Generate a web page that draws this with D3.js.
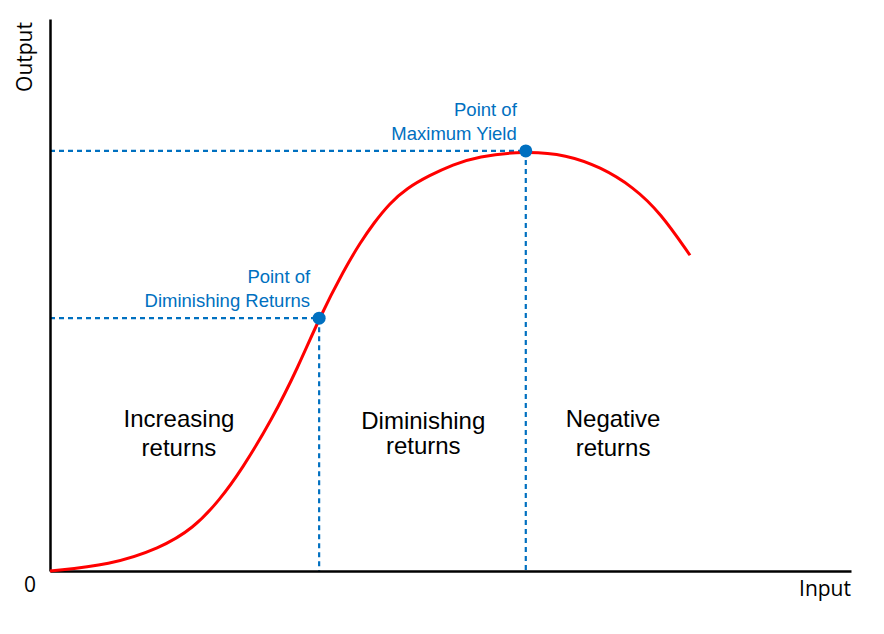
<!DOCTYPE html>
<html>
<head>
<meta charset="utf-8">
<script src="https://cdn.jsdelivr.net/npm/d3@7"></script>
<style>
	html, body { margin: 0; padding: 0; background: #fff; }
	svg { display: block; }
</style>
</head>
<body>
<svg id="chart" width="884" height="634"></svg>
<script>
'use strict';

// production curve (input, output on a 0-100 scale)
let inputs  = [0, 7.5, 13.7, 17.9, 21.2, 23.9, 27.7, 31.0, 33.6, 36.8, 38.7, 40.4, 42.4, 44.5, 47.4, 50.3, 53.3, 59.4, 64.5, 68.7, 72.8, 76.2, 79.9];
let outputs = [0, 1.1, 4.1, 7.7, 12.9, 18.3, 27.4, 37.0, 45.8, 54.8, 59.4, 63.0, 66.6, 69.3, 71.7, 73.6, 75.1, 76.1, 75.4, 73.2, 69.6, 64.9, 57.2];

// marked points
let keyPoints = [
	{name: 'diminishing', x: 33.6, y: 45.8, label: ['Point of', 'Diminishing Returns']},
	{name: 'maximum', x: 59.4, y: 76.1, label: ['Point of', 'Maximum Yield']}
];

// region captions
let regions = [
	{name: 'increasing', x: 16.1, y: 26.1, lines: ['Increasing', 'returns']},
	{name: 'diminishing', x: 46.6, y: 25.7, lines: ['Diminishing', 'returns']},
	{name: 'negative', x: 70.3, y: 26.1, lines: ['Negative', 'returns']}
];

let opt = {
	left: 50,
	right: 851,
	top: 19,
	bottom: 571,
	red: '#ff0000',
	blue: '#0070c0',
	font: '"Liberation Sans", Arial, sans-serif',
	axisFont: '"Open Sans", "Noto Sans", sans-serif',
	lineGap: {increasing: 29, diminishing: 25, negative: 29}
};

let svg = d3.select('svg#chart');

let x = d3.scaleLinear().domain([0, 100]).range([opt.left, opt.right]);
let y = d3.scaleLinear().domain([0, 100]).range([opt.bottom, opt.top]);

let curveData = inputs.map((v, i) => ({x: v, y: outputs[i]}));

// guide lines
let guides = svg.append('g')
	.attr('stroke', opt.blue)
	.attr('stroke-width', 2.2)
	.attr('stroke-dasharray', '5,4')
	.attr('fill', 'none');

keyPoints.forEach(p => {
	guides.append('line')
		.attr('x1', x(0)).attr('x2', x(p.x))
		.attr('y1', y(p.y)).attr('y2', y(p.y));
	guides.append('line')
		.attr('x1', x(p.x)).attr('x2', x(p.x))
		.attr('y1', y(p.y)).attr('y2', y(0));
});

// axes
let axisX = d3.axisBottom(x).tickValues([]).tickSizeOuter(0);
let axisY = d3.axisLeft(y).tickValues([]).tickSizeOuter(0);

svg.append('g')
	.attr('transform', `translate(0,${opt.bottom})`)
	.call(axisX)
	.select('.domain')
	.attr('stroke', '#000')
	.attr('stroke-width', 2.5);

svg.append('g')
	.attr('transform', `translate(${opt.left},0)`)
	.call(axisY)
	.select('.domain')
	.attr('stroke', '#000')
	.attr('stroke-width', 2.5);

// curve
let line = d3.line()
	.x(d => x(d.x))
	.y(d => y(d.y))
	.curve(d3.curveBasis);

svg.append('path')
	.datum(curveData)
	.attr('d', line)
	.attr('fill', 'none')
	.attr('stroke', opt.red)
	.attr('stroke-width', 3);

// points
svg.selectAll('circle.key')
	.data(keyPoints)
	.enter().append('circle')
	.attr('class', 'key')
	.attr('cx', d => x(d.x))
	.attr('cy', d => y(d.y))
	.attr('r', 6.5)
	.attr('fill', opt.blue);

// point labels
keyPoints.forEach(p => {
	let t = svg.append('text')
		.attr('text-anchor', 'end')
		.attr('font-family', opt.font)
		.attr('font-size', 18.5)
		.attr('fill', opt.blue);
	p.label.forEach((s, i) => {
		t.append('tspan')
			.attr('x', x(p.x) - 9)
			.attr('y', y(p.y) - 35 + i * 24)
			.text(s);
	});
});

// region captions
regions.forEach(r => {
	let t = svg.append('text')
		.attr('text-anchor', 'middle')
		.attr('font-family', opt.font)
		.attr('font-size', 24)
		.attr('fill', '#000');
	r.lines.forEach((s, i) => {
		t.append('tspan')
			.attr('x', x(r.x))
			.attr('y', y(r.y) + i * opt.lineGap[r.name])
			.text(s);
	});
});

// axis titles
svg.append('text')
	.attr('transform', `translate(32,${opt.top + 38}) rotate(-90)`)
	.attr('text-anchor', 'middle')
	.attr('font-family', opt.axisFont)
	.attr('font-size', 21)
	.text('Output');

svg.append('text')
	.attr('x', opt.right)
	.attr('y', 596)
	.attr('text-anchor', 'end')
	.attr('font-family', opt.axisFont)
	.attr('font-size', 21)
	.text('Input');

svg.append('text')
	.attr('x', 30)
	.attr('y', 592)
	.attr('text-anchor', 'middle')
	.attr('font-family', opt.axisFont)
	.attr('font-size', 21)
	.text('0');
</script>
</body>
</html>
